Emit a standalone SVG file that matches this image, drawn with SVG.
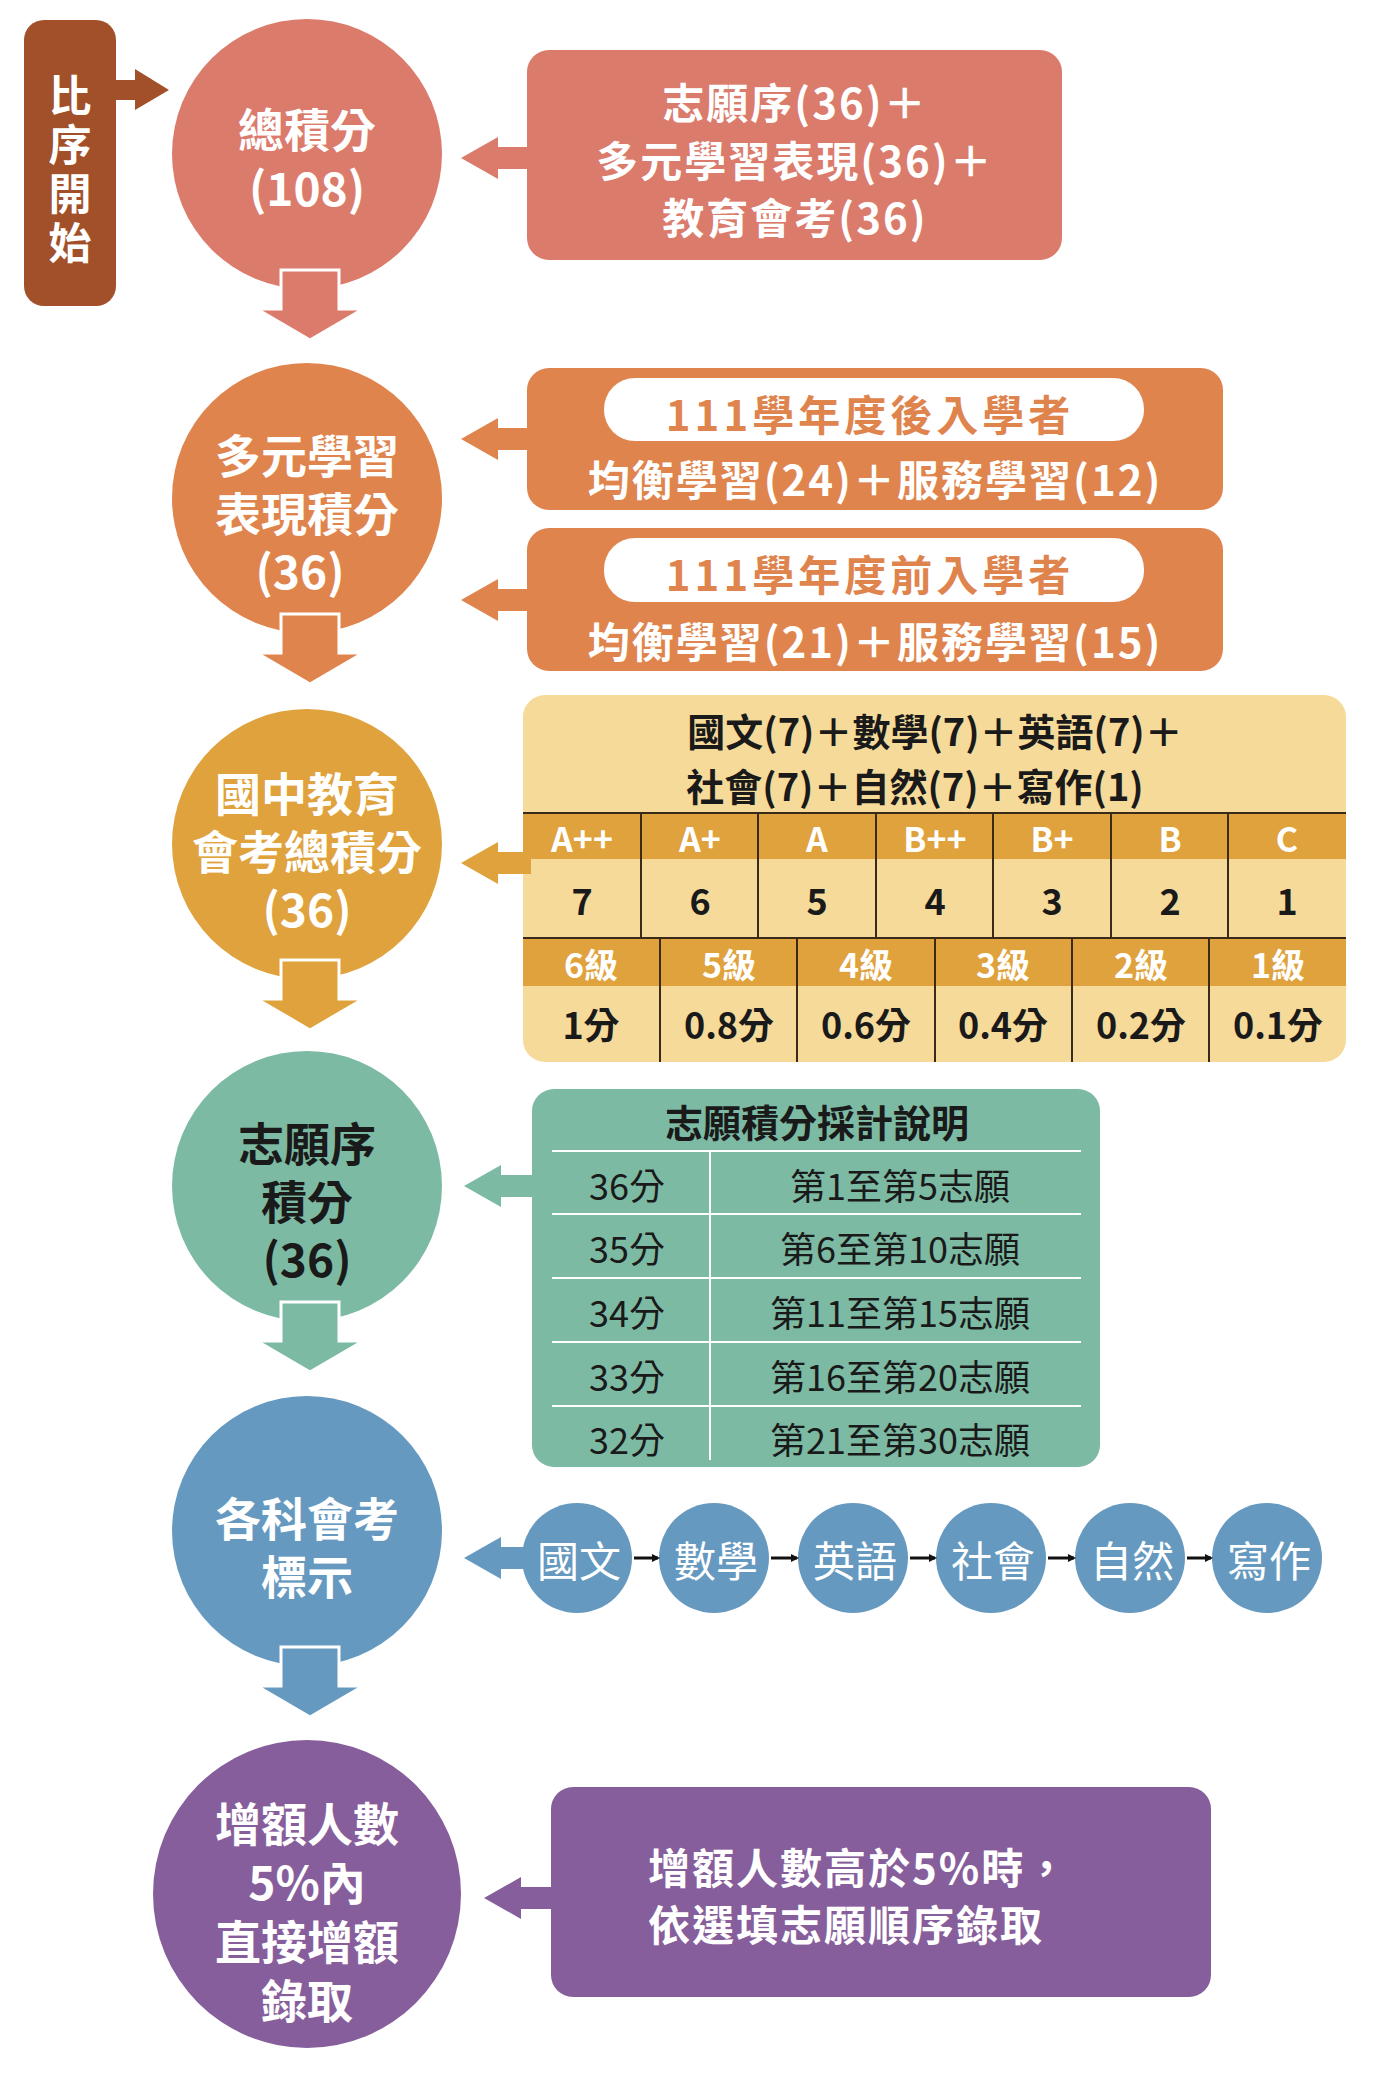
<svg xmlns="http://www.w3.org/2000/svg" width="1384" height="2076" viewBox="0 0 1384 2076">
<style>
text{font-family:"Noto Sans CJK TC","Noto Sans",sans-serif;text-anchor:middle;dominant-baseline:central}
.cw{fill:#fff;font-weight:700;font-size:46px}
.vt{fill:#fff;font-weight:700;font-size:43px}
.bw{fill:#fff;font-weight:700;font-size:42px;letter-spacing:2px}
.d{fill:#1a1a1a;font-weight:700;font-size:38px}
.tw{fill:#fff;font-weight:700;font-size:34px}
.r{fill:#1a1a1a;font-size:36px}
.s{fill:#fff;font-size:42px}
.ln{stroke:#3a2a1a;stroke-width:2}
.wl{stroke:#fff;stroke-width:2}
</style>
<defs>
<path id="da" d="M-29,0 H29 V39 H53 L0,70 L-53,39 H-29 Z" stroke="#fff" stroke-width="3"/>
<path id="la" d="M0,0 L37,-21 V-11 H70 V11 H37 V21 Z"/>
<marker id="m" markerWidth="8" markerHeight="8" refX="6" refY="4" orient="auto" markerUnits="userSpaceOnUse"><path d="M0,0 L8,4 L0,8 Z" fill="#111"/></marker>
</defs>
<g id="start">
<rect x="24" y="20" width="92" height="286" rx="20" fill="#A2502A"/>
<path d="M116,80 H135 V69 L169,90 L135,110 V100 H116 Z" fill="#A2502A"/>
<text class="vt" x="70" y="93">比</text><text class="vt" x="70" y="142">序</text><text class="vt" x="70" y="191">開</text><text class="vt" x="70" y="240">始</text>
</g>
<g id="total">
<circle cx="307" cy="154" r="135" fill="#DB7B6C"/>
<text class="cw" x="307" y="127">總積分</text><text class="cw" x="307" y="186">(108)</text>
<rect x="527" y="50" width="535" height="210" rx="22" fill="#DB7B6C"/>
<text class="bw" x="795" y="100">志願序(36)＋</text><text class="bw" x="795" y="158">多元學習表現(36)＋</text><text class="bw" x="795" y="215">教育會考(36)</text>
</g>
<g id="multi">
<circle cx="307" cy="498" r="135" fill="#E0844E"/>
<text class="cw" x="307" y="453">多元學習</text><text class="cw" x="307" y="511">表現積分</text><text class="cw" x="300" y="569">(36)</text>
<rect x="527" y="368" width="696" height="142" rx="22" fill="#E0844E"/>
<rect x="604" y="378" width="540" height="63" rx="31" fill="#fff"/>
<text class="bw" x="870" y="412" style="fill:#E0844E;letter-spacing:4px">111學年度後入學者</text>
<text class="bw" x="875" y="477">均衡學習(24)＋服務學習(12)</text>
<rect x="527" y="528" width="696" height="143" rx="22" fill="#E0844E"/>
<rect x="604" y="538" width="540" height="64" rx="31" fill="#fff"/>
<text class="bw" x="870" y="572" style="fill:#E0844E;letter-spacing:4px">111學年度前入學者</text>
<text class="bw" x="875" y="639">均衡學習(21)＋服務學習(15)</text>
</g>
<g id="exam">
<circle cx="307" cy="844" r="135" fill="#DFA23D"/>
<text class="cw" x="307" y="791">國中教育</text><text class="cw" x="307" y="849">會考總積分</text><text class="cw" x="307" y="907">(36)</text>
<rect x="523" y="695" width="823" height="367" rx="22" fill="#F6DA9A"/>
<rect x="523" y="813" width="823" height="46" fill="#DFA23D"/>
<rect x="523" y="938" width="823" height="48" fill="#DFA23D"/>
<text class="d" x="935" y="729">國文(7)＋數學(7)＋英語(7)＋</text>
<text class="d" x="915" y="784">社會(7)＋自然(7)＋寫作(1)</text>
<line class="ln" x1="523" y1="813" x2="1346" y2="813"/><line class="ln" x1="523" y1="938" x2="1346" y2="938"/>
<g class="ln">
<line x1="641" y1="813" x2="641" y2="938"/><line x1="758" y1="813" x2="758" y2="938"/><line x1="876" y1="813" x2="876" y2="938"/><line x1="993" y1="813" x2="993" y2="938"/><line x1="1111" y1="813" x2="1111" y2="938"/><line x1="1228" y1="813" x2="1228" y2="938"/>
<line x1="660" y1="938" x2="660" y2="1062"/><line x1="797" y1="938" x2="797" y2="1062"/><line x1="935" y1="938" x2="935" y2="1062"/><line x1="1072" y1="938" x2="1072" y2="1062"/><line x1="1209" y1="938" x2="1209" y2="1062"/>
</g>
<g class="tw"><text x="582" y="837">A++</text><text x="700" y="837">A+</text><text x="817" y="837">A</text><text x="935" y="837">B++</text><text x="1052" y="837">B+</text><text x="1170" y="837">B</text><text x="1287" y="837">C</text>
<text x="591" y="963">6級</text><text x="729" y="963">5級</text><text x="866" y="963">4級</text><text x="1003" y="963">3級</text><text x="1141" y="963">2級</text><text x="1278" y="963">1級</text></g>
<g class="d" style="font-size:36px"><text x="582" y="899">7</text><text x="700" y="899">6</text><text x="817" y="899">5</text><text x="935" y="899">4</text><text x="1052" y="899">3</text><text x="1170" y="899">2</text><text x="1287" y="899">1</text>
<text x="591" y="1023">1分</text><text x="729" y="1023">0.8分</text><text x="866" y="1023">0.6分</text><text x="1003" y="1023">0.4分</text><text x="1141" y="1023">0.2分</text><text x="1278" y="1023">0.1分</text></g>
</g>
<g id="wish">
<circle cx="307" cy="1186" r="135" fill="#7DBAA4"/>
<text class="cw" x="307" y="1141" style="fill:#1a1a1a">志願序</text><text class="cw" x="307" y="1199" style="fill:#1a1a1a">積分</text><text class="cw" x="307" y="1257" style="fill:#1a1a1a">(36)</text>
<rect x="532" y="1089" width="568" height="378" rx="22" fill="#7DBAA4"/>
<text class="d" x="817" y="1120">志願積分採計說明</text>
<g class="wl"><line x1="552" y1="1151" x2="1081" y2="1151"/><line x1="552" y1="1214" x2="1081" y2="1214"/><line x1="552" y1="1278" x2="1081" y2="1278"/><line x1="552" y1="1342" x2="1081" y2="1342"/><line x1="552" y1="1406" x2="1081" y2="1406"/><line x1="710" y1="1151" x2="710" y2="1460"/></g>
<g class="r"><text x="627" y="1184">36分</text><text x="900" y="1184">第1至第5志願</text>
<text x="627" y="1247">35分</text><text x="900" y="1247">第6至第10志願</text>
<text x="627" y="1311">34分</text><text x="900" y="1311">第11至第15志願</text>
<text x="627" y="1375">33分</text><text x="900" y="1375">第16至第20志願</text>
<text x="627" y="1438">32分</text><text x="900" y="1438">第21至第30志願</text></g>
</g>
<g id="subjects">
<circle cx="307" cy="1531" r="135" fill="#6699BF"/>
<text class="cw" x="307" y="1516">各科會考</text><text class="cw" x="307" y="1574">標示</text>
<g fill="#6699BF"><circle cx="577" cy="1558" r="55"/><circle cx="714" cy="1558" r="55"/><circle cx="853" cy="1558" r="55"/><circle cx="991" cy="1558" r="55"/><circle cx="1130" cy="1558" r="55"/><circle cx="1267" cy="1558" r="55"/></g>
<g class="s"><text x="579" y="1558">國文</text><text x="716" y="1558">數學</text><text x="855" y="1558">英語</text><text x="993" y="1558">社會</text><text x="1132" y="1558">自然</text><text x="1269" y="1558">寫作</text></g>
</g>
<g id="extra">
<circle cx="307" cy="1894" r="154" fill="#875E9C"/>
<text class="cw" x="307" y="1821">增額人數</text><text class="cw" x="307" y="1880">5%內</text><text class="cw" x="307" y="1939">直接增額</text><text class="cw" x="307" y="1998">錄取</text>
<rect x="551" y="1787" width="660" height="210" rx="22" fill="#875E9C"/>
<text class="bw" x="648" y="1865" style="text-anchor:start">增額人數高於5%時，</text>
<text class="bw" x="648" y="1922" style="text-anchor:start">依選填志願順序錄取</text>
</g>
<g id="connectors">
<use href="#da" x="310" y="270" fill="#DB7B6C"/>
<use href="#da" x="310" y="614" fill="#E0844E"/>
<use href="#da" x="310" y="960" fill="#DFA23D"/>
<use href="#da" x="310" y="1302" fill="#7DBAA4"/>
<use href="#da" x="310" y="1647" fill="#6699BF"/>
<use href="#la" x="461" y="158" fill="#DB7B6C"/>
<use href="#la" x="461" y="439" fill="#E0844E"/>
<use href="#la" x="461" y="600" fill="#E0844E"/>
<use href="#la" x="461" y="863" fill="#DFA23D"/>
<use href="#la" x="464" y="1186" fill="#7DBAA4"/>
<use href="#la" x="464" y="1558" fill="#6699BF"/>
<use href="#la" x="484" y="1898" fill="#875E9C"/>
<g stroke="#111" stroke-width="3" marker-end="url(#m)">
<line x1="634" y1="1558" x2="658" y2="1558"/><line x1="771" y1="1558" x2="797" y2="1558"/><line x1="910" y1="1558" x2="935" y2="1558"/><line x1="1048" y1="1558" x2="1074" y2="1558"/><line x1="1187" y1="1558" x2="1211" y2="1558"/>
</g>
</g>
</svg>
